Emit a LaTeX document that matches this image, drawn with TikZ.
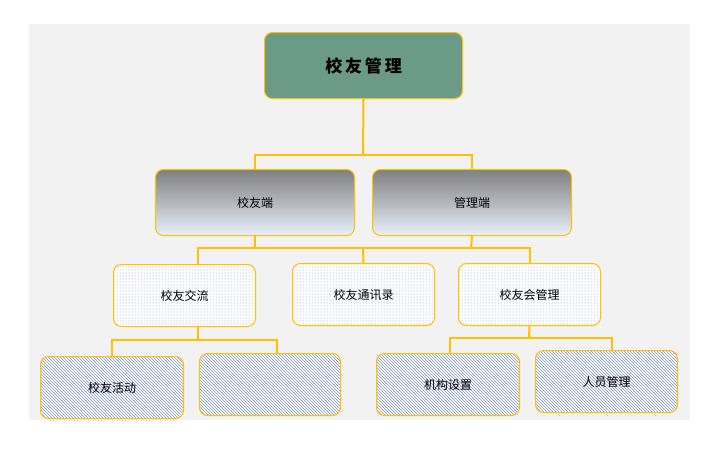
\documentclass[tikz,border=0pt]{standalone}
\usepackage{fontspec}
\newfontfamily\cjk{Noto Sans CJK SC}
\usetikzlibrary{patterns}
\definecolor{ln}{HTML}{FFC000}
\definecolor{pat}{HTML}{7F93C8}
\begin{document}
\begin{tikzpicture}[x=1pt,y=-1pt,font=\cjk\fontsize{12}{14}\selectfont,
  bx/.style={draw=ln,line width=1pt,rounded corners=8pt,anchor=north west,inner sep=0pt},
  rootbox/.style={bx,fill={rgb,255:red,107;green,154;blue,135}},
  gradbox/.style={bx,top color=black!50,bottom color={rgb,255:red,232;green,240;blue,250}},
  dotbox/.style={bx,preaction={fill=white},pattern=dots,pattern color=pat},
  hatchbox/.style={bx,preaction={fill=white},pattern=north west lines,pattern color=pat},
  con/.style={draw=ln,line width=2pt}]
\useasboundingbox (0,0) rectangle (720,450);
\fill[black!5] (29,24) rectangle (690,420);
\node[rootbox,minimum width=198pt,minimum height=66pt] (r) at (264,32) {\fontsize{17}{20}\selectfont\bfseries 校\,友\,管\,理};
\node[gradbox,minimum width=199pt,minimum height=66pt] (a) at (155,169) {校友端};
\node[gradbox,minimum width=199pt,minimum height=66pt] (b) at (372,169) {管理端};
\node[dotbox,minimum width=142pt,minimum height=62pt] (c1) at (113,264) {校友交流};
\node[dotbox,minimum width=142pt,minimum height=62pt] (c2) at (292,263) {校友通讯录};
\node[dotbox,minimum width=142pt,minimum height=62pt] (c3) at (458,263) {校友会管理};
\node[hatchbox,minimum width=143pt,minimum height=62pt] (d1) at (40,356) {校友活动};
\node[hatchbox,minimum width=141pt,minimum height=62pt] (d2) at (199,353) {};
\node[hatchbox,minimum width=143pt,minimum height=62pt] (d3) at (376,353) {机构设置};
\node[hatchbox,minimum width=142pt,minimum height=62pt] (d4) at (535,350) {人员管理};
\begin{scope}[on background layer/.style={}]
\draw[con] (r.south) -- (363,155) coordinate (h1);
\draw[con] (a.north) |- (h1) -| (b.north);
\draw[con] (a.south) -- (255,248);
\draw[con] (b.south) -- (471,248);
\draw[con] (198,264) -- (198,248) -| (c3.north);
\draw[con] (c2.north) -- (363,248);
\draw[con] (198,326) -- (198,340);
\draw[con] (112,356) -- (112,340) -| (277,353);
\draw[con] (c3.south) -- (529,338);
\draw[con] (450,353) -- (450,338) -| (612,350);
\end{scope}
\end{tikzpicture}
\end{document}
